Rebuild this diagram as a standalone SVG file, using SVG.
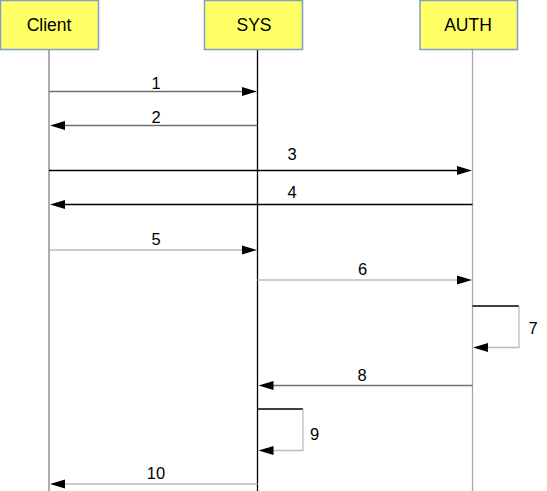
<svg xmlns="http://www.w3.org/2000/svg" width="547" height="491" viewBox="0 0 547 491">
<style>
.box{fill:#ffff66;stroke:#7f9fc8;stroke-width:1.5}
.name{font-family:"Liberation Sans",Arial,sans-serif;font-size:17.5px;fill:#000;text-anchor:middle}
.lbl{font-family:"Liberation Sans",Arial,sans-serif;font-size:16.5px;fill:#000;text-anchor:middle}
.ln{fill:none;stroke-width:1.3}
.k{stroke:#000}
.g{stroke:#707070}
.lg{stroke:#bdbdbd}
.head{fill:#000}
</style>
<rect width="547" height="491" fill="#fff"/>
<g id="lifelines">
<line x1="49" y1="50" x2="49" y2="491" stroke="#808080" stroke-width="1.3"/>
<line x1="257.5" y1="50" x2="257.5" y2="491" stroke="#000" stroke-width="1.3"/>
<line x1="472.5" y1="50" x2="472.5" y2="491" stroke="#a8a8a8" stroke-width="1.3"/>
</g>
<g id="client"><rect class="box" x="0.5" y="0.5" width="98" height="49"/><text class="name" x="49" y="31">Client</text></g>
<g id="sys"><rect class="box" x="204.5" y="0.5" width="98" height="49"/><text class="name" x="254" y="31">SYS</text></g>
<g id="auth"><rect class="box" x="420" y="0.5" width="97.5" height="49"/><text class="name" x="468" y="31">AUTH</text></g>
<g id="connectors">
<line class="ln g" x1="49" y1="91.5" x2="244" y2="91.5"/>
<polygon class="head" points="257,91.5 242,87 242,96"/>
<line class="ln g" x1="63" y1="125.5" x2="257.5" y2="125.5" stroke="#555"/>
<polygon class="head" points="50,125.5 65,121 65,130"/>
<line class="ln k" x1="49" y1="170.5" x2="459" y2="170.5"/>
<polygon class="head" points="472,170.5 457,166 457,175"/>
<line class="ln k" x1="63" y1="204.5" x2="472.5" y2="204.5"/>
<polygon class="head" points="50,204.5 65,200 65,209"/>
<line class="ln lg" x1="49" y1="250" x2="244" y2="250"/>
<polygon class="head" points="257,250 242,245.5 242,254.5"/>
<line class="ln lg" x1="257.5" y1="280" x2="459" y2="280"/>
<polygon class="head" points="472,280 457,275.5 457,284.5"/>
<line class="ln k" x1="472.5" y1="306" x2="519" y2="306"/>
<polyline class="ln lg" points="519,306 519,347.5 487,347.5"/>
<polygon class="head" points="473,347.5 488,343 488,352"/>
<line class="ln g" x1="272" y1="385.5" x2="472.5" y2="385.5" stroke="#555"/>
<polygon class="head" points="258.5,385.5 273.5,381 273.5,390"/>
<line class="ln k" x1="257.5" y1="409" x2="303" y2="409"/>
<polyline class="ln lg" points="303,409 303,450.5 272,450.5"/>
<polygon class="head" points="258.5,450.5 273.5,446 273.5,455"/>
<line class="ln lg" x1="64" y1="484" x2="257.5" y2="484"/>
<polygon class="head" points="50,484 65,479.5 65,488.5"/>
</g>
<g id="labels">
<text class="lbl" x="156" y="89">1</text>
<text class="lbl" x="156" y="123">2</text>
<text class="lbl" x="292" y="160">3</text>
<text class="lbl" x="292" y="198">4</text>
<text class="lbl" x="156" y="245">5</text>
<text class="lbl" x="362.5" y="274.5">6</text>
<text class="lbl" x="533" y="334">7</text>
<text class="lbl" x="362" y="381">8</text>
<text class="lbl" x="314.5" y="440">9</text>
<text class="lbl" x="156" y="479">10</text>
</g>
</svg>
